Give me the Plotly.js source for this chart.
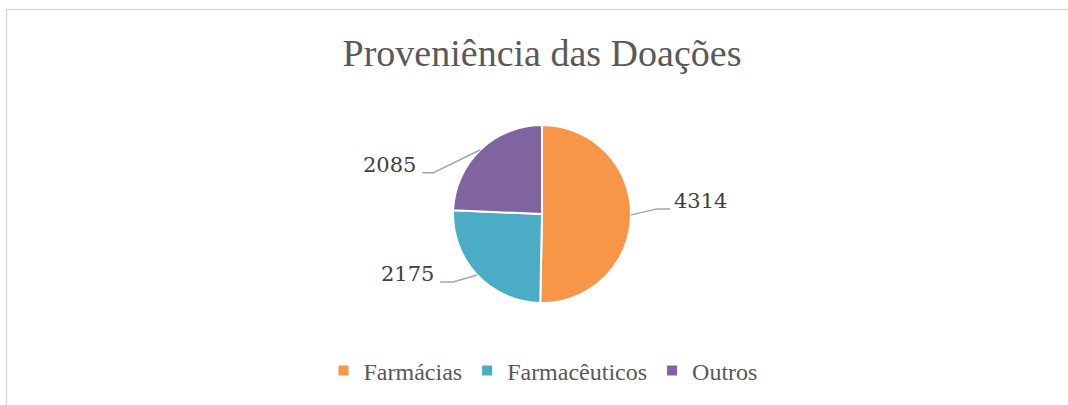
<!DOCTYPE html>
<html><head><meta charset="utf-8">
<script src="https://cdn.plot.ly/plotly-3.0.1.min.js"></script>
<style>html,body{margin:0;padding:0;background:#fff}#chart{width:1068px;height:405px}</style>
</head><body><div id="chart"></div>
<script>
const categories = ['Farmácias', 'Farmacêuticos', 'Outros'];
const values = [4314, 2175, 2085];
const colors = ['#F79646', '#4BACC6', '#8064A2'];
const chartTitle = 'Proveniência das Doações';

const W = 1068, H = 405;
const cx = 542, cy = 214, r = 89;
// leader-line layout per slice: elbow offset from slice edge (px), horizontal run (px)
const labelStyle = [
  {elbow: [26, -6], run: 13},
  {elbow: [-24, 7], run: -13},
  {elbow: [-47, 23], run: -11}
];

const px = x => x / W;
const py = y => 1 - y / H;

const total = values.reduce((a, b) => a + b, 0);
let cum = 0;
const shapes = [];
const annotations = [];
values.forEach((v, i) => {
  const mid = (cum + v / 2) / total * 2 * Math.PI;
  cum += v;
  const ex = cx + r * Math.sin(mid), ey = cy - r * Math.cos(mid);
  const st = labelStyle[i];
  const bx = ex + st.elbow[0], by = ey + st.elbow[1];
  const tx = bx + st.run;
  shapes.push({
    type: 'path', xref: 'paper', yref: 'paper',
    path: `M${px(ex)},${py(ey)} L${px(bx)},${py(by)} L${px(tx)},${py(by)}`,
    line: {color: '#A6A6A6', width: 1.5}
  });
  annotations.push({
    xref: 'paper', yref: 'paper', showarrow: false,
    x: px(st.run > 0 ? tx + 2 : tx - 4), y: py(by - 8),
    xanchor: st.run > 0 ? 'left' : 'right', yanchor: 'middle',
    text: String(v),
    font: {family: 'DejaVu Serif', size: 21, color: '#404040'}
  });
});

shapes.push({
  type: 'rect', xref: 'paper', yref: 'paper',
  x0: px(6.5), x1: 1.02, y0: -0.05, y1: py(9.5),
  line: {color: '#D9D9D9', width: 1.5}, fillcolor: 'rgba(0,0,0,0)'
});

const data = [{
  type: 'pie',
  labels: categories,
  values: values,
  sort: false,
  direction: 'clockwise',
  rotation: 0,
  textinfo: 'none',
  hoverinfo: 'label+value',
  marker: {colors: colors, line: {color: '#FFFFFF', width: 2}},
  domain: {x: [px(cx - r), px(cx + r)], y: [py(cy + r), py(cy - r)]},
  automargin: false
}];

const layout = {
  width: W, height: H,
  margin: {l: 0, r: 0, t: 0, b: 0},
  paper_bgcolor: '#FFFFFF',
  title: {
    text: chartTitle, x: px(542), xanchor: 'center', y: py(53), yanchor: 'middle',
    xref: 'container', yref: 'container',
    font: {family: 'Liberation Serif', size: 38, color: '#595959'}
  },
  showlegend: true,
  legend: {
    orientation: 'h', x: px(543), xanchor: 'center', y: py(371), yanchor: 'middle',
    font: {family: 'Liberation Serif', size: 24, color: '#595959'},
    itemwidth: 30
  },
  shapes: shapes,
  annotations: annotations
};

Plotly.newPlot('chart', data, layout, {displayModeBar: false, staticPlot: true});
</script>
</body></html>
